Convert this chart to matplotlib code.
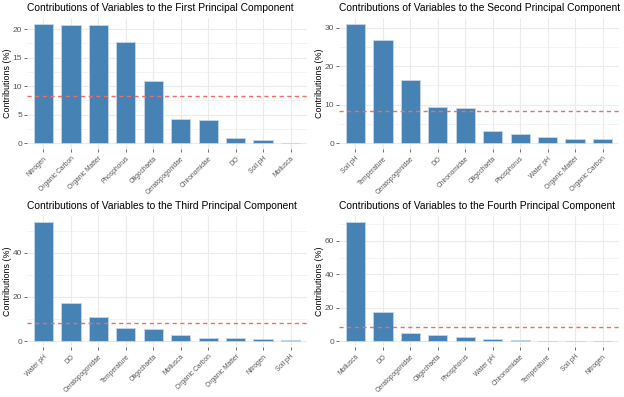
import numpy as np
import matplotlib
matplotlib.use('Agg')
import matplotlib.pyplot as plt
from matplotlib.ticker import MultipleLocator

plt.rcParams['font.family'] = ['Liberation Sans', 'DejaVu Sans']

# contributions (%), one panel per component
pc1_vars = ['Nitrogen', 'Organic Carbon', 'Organic Matter', 'Phosphorus', 'Oligochaeta',
            'Ceratopogonidae', 'Chironomidae', 'DO', 'Soil pH', 'Mollusca']
pc1_vals = [20.9, 20.8, 20.8, 17.7, 10.9, 4.2, 4.0, 0.9, 0.6, 0.06]

pc2_vars = ['Soil pH', 'Temperature', 'Ceratopogonidae', 'DO', 'Chironomidae',
            'Oligochaeta', 'Phosphorus', 'Water pH', 'Organic Matter', 'Organic Carbon']
pc2_vals = [31.0, 26.7, 16.3, 9.5, 9.0, 3.2, 2.3, 1.5, 1.1, 1.1]

pc3_vars = ['Water pH', 'DO', 'Ceratopogonidae', 'Temperature', 'Oligochaeta',
            'Mollusca', 'Organic Carbon', 'Organic Matter', 'Nitrogen', 'Soil pH']
pc3_vals = [53.9, 17.1, 11.0, 5.9, 5.3, 2.9, 1.5, 1.5, 1.1, 0.45]

pc4_vars = ['Mollusca', 'DO', 'Ceratopogonidae', 'Oligochaeta', 'Phosphorus',
            'Water pH', 'Chironomidae', 'Temperature', 'Soil pH', 'Nitrogen']
pc4_vals = [71.4, 17.4, 4.6, 3.4, 2.2, 1.0, 0.6, 0.2, 0.15, 0.1]

titles = ['First', 'Second', 'Third', 'Fourth']
expected = 100 / 12  # uniform contribution of 12 variables

BAR = '#4682B4'
GRID = '#EBEBEB'
TXT = '#555555'

W, H = 624, 397
fig = plt.figure(figsize=(W / 100, H / 100), dpi=100, facecolor='white')

# axes boxes in pixels: (left, top, right, bottom)
boxes = [(27, 18, 307, 149), (339, 18, 619, 149),
         (27, 216, 307, 347), (339, 216, 619, 347)]
steps = [5, 10, 20, 20]
panels = [(pc1_vars, pc1_vals), (pc2_vars, pc2_vals),
          (pc3_vars, pc3_vals), (pc4_vars, pc4_vals)]

for (names, vals), (l, t, r, b), step, ttl in zip(panels, boxes, steps, titles):
    ax = fig.add_axes([l / W, 1 - b / H, (r - l) / W, (b - t) / H])
    x = np.arange(len(names))
    top = max(vals)
    ax.set_xlim(-0.6, len(names) - 0.4)
    ax.set_ylim(-0.05 * top, 1.05 * top)

    ax.yaxis.set_major_locator(MultipleLocator(step))
    ax.yaxis.set_minor_locator(MultipleLocator(step / 2))
    ax.grid(True, axis='y', which='major', color=GRID, linewidth=0.8)
    ax.grid(True, axis='y', which='minor', color=GRID, linewidth=0.4)
    ax.grid(True, axis='x', which='major', color=GRID, linewidth=0.8)
    ax.set_axisbelow(True)

    ax.bar(x, vals, width=0.7, color=BAR, edgecolor='#C6D6E6', linewidth=0.6)
    ax.axhline(expected, color='#F06A6A', linestyle=(0, (3, 2.5)), linewidth=1.0)

    ax.set_xticks(x)
    ax.set_xticklabels(names, rotation=45, ha='right', rotation_mode='anchor',
                       fontsize=4.8, color=TXT)
    ax.tick_params(axis='x', which='major', length=2, width=0.5, color='#333333',
                   labelsize=4.8, labelcolor=TXT, pad=2.5)
    ax.tick_params(axis='y', which='major', length=2, width=0.5, color='#333333',
                   labelsize=6, labelcolor=TXT, pad=1.5)
    ax.tick_params(axis='y', which='minor', length=0)
    for s in ax.spines.values():
        s.set_visible(False)

    ax.set_ylabel('Contributions (%)', fontsize=6.4, color='black')
    ax.yaxis.set_label_coords((12 - 27) / (r - l), 0.5)
    ax.set_title(f'Contributions of Variables to the {ttl} Principal Component',
                 fontsize=7.4, loc='left', pad=5)

fig.savefig('out.png', dpi=100, facecolor='white')
